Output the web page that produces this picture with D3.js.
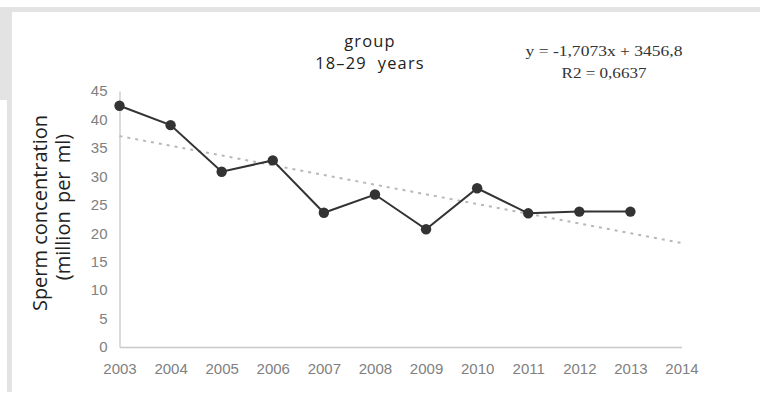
<!DOCTYPE html>
<html><head><meta charset="utf-8">
<script src="https://cdn.jsdelivr.net/npm/d3@7"></script>
<style>body{margin:0;background:#fff}svg{display:block}</style>
</head><body>
<svg id="c" width="762" height="395"></svg>
<script>
const years = [2003,2004,2005,2006,2007,2008,2009,2010,2011,2012,2013];
const values = [42.4,39.0,30.8,32.8,23.6,26.8,20.7,27.9,23.5,23.8,23.8];
const xTicks = [2003,2004,2005,2006,2007,2008,2009,2010,2011,2012,2013,2014];
const yTicks = [0,5,10,15,20,25,30,35,40,45];
const trendSlope = -1.7073, trendIntercept = 3456.8;
const titleLines = ["group","18–29  years"];
const eqLines = ["y = -1,7073x + 3456,8","R2 = 0,6637"];
const yTitleLines = ["Sperm concentration","(million per ml)"];

const svg = d3.select("#c");
// frame decoration
svg.append("rect").attr("x",0).attr("y",7).attr("width",760).attr("height",5).attr("fill","#e3e3e3");
svg.append("rect").attr("x",0).attr("y",7).attr("width",12).attr("height",93).attr("fill","#e3e3e3");
svg.append("rect").attr("x",7).attr("y",100).attr("width",5).attr("height",292).attr("fill","#e3e3e3");

const x = d3.scaleLinear().domain([2003,2014]).range([119.5,681.5]);
const y = d3.scaleLinear().domain([0,45]).range([347,91]);

const gx = svg.append("g").attr("transform","translate(0,347)")
  .call(d3.axisBottom(x).tickValues(xTicks).tickFormat(d3.format("d")).tickSize(0).tickPadding(16));
const gy = svg.append("g").attr("transform","translate(119.5,0)")
  .call(d3.axisLeft(y).tickValues(yTicks).tickSize(0).tickPadding(12));
[gx,gy].forEach(g=>{
  g.attr("font-family",null).attr("font-size",null);
  g.select(".domain").attr("stroke","#c8c8c8").attr("stroke-width",1.3);
  g.selectAll("text").attr("fill","#808080").style("font-family","'Liberation Sans', Arial, sans-serif").style("font-size","15px");
});

// trend line
svg.append("line")
  .attr("x1",x(2003)).attr("y1",y(trendSlope*2003+trendIntercept))
  .attr("x2",x(2014)).attr("y2",y(trendSlope*2014+trendIntercept))
  .attr("stroke","#b8b8b8").attr("stroke-width",2).attr("stroke-dasharray","3,5");

const pts = years.map((yr,i)=>[yr,values[i]]);
svg.append("path").datum(pts)
  .attr("d",d3.line().x(d=>x(d[0])).y(d=>y(d[1])))
  .attr("fill","none").attr("stroke","#333").attr("stroke-width",2);
svg.selectAll("circle.p").data(pts).join("circle")
  .attr("cx",d=>x(d[0])).attr("cy",d=>y(d[1])).attr("r",5.2).attr("fill","#333");

// titles
svg.selectAll("text.t").data(titleLines).join("text")
  .attr("x",370).attr("y",(d,i)=>46.5+i*22.5).attr("text-anchor","middle")
  .style("font-family","'Open Sans', sans-serif").style("font-size","16.4px").style("letter-spacing","1.2px")
  .style("white-space","pre").attr("fill","#222").text(d=>d);
svg.selectAll("text.e").data(eqLines).join("text")
  .attr("x",604).attr("y",(d,i)=>55.5+i*22.5).attr("text-anchor","middle")
  .attr("textLength",(d,i)=>i===0?157:85).attr("lengthAdjust","spacingAndGlyphs")
  .style("font-family","'Liberation Serif', serif").style("font-size","15.5px").attr("fill","#333").text(d=>d);
svg.selectAll("text.yt").data(yTitleLines).join("text")
  .attr("transform",(d,i)=>`translate(${47+i*23},${i===0?213:207}) rotate(-90)`).attr("text-anchor","middle")
  .style("font-family","'Open Sans', sans-serif").style("font-size","20px").style("word-spacing",(d,i)=>i===1?"3px":"0px")
  .style("white-space","pre").attr("fill","#222").text(d=>d);
</script>
</body></html>
